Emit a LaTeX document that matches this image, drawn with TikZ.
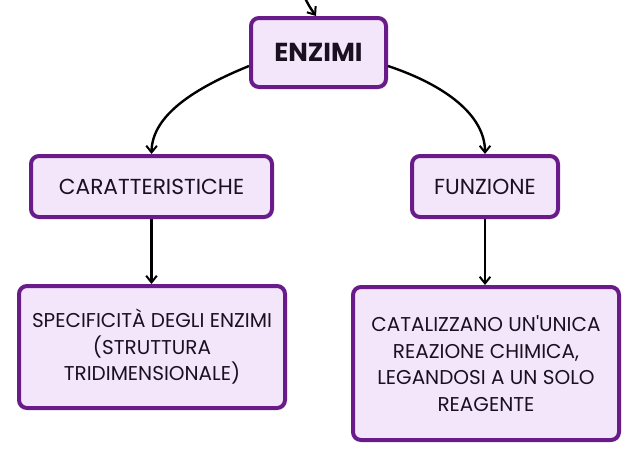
\documentclass[tikz,border=0pt]{standalone}
\usepackage{fontspec}
\setmainfont{Poppins}[Ligatures=TeXOff]
\usetikzlibrary{arrows.meta}
\definecolor{boxborder}{HTML}{6A1B8A}
\definecolor{boxfill}{HTML}{F3E6FB}
\definecolor{txt}{HTML}{1A1020}
\begin{document}
\begin{tikzpicture}[x=0.75pt,y=-0.75pt,
  box/.style={draw=boxborder,fill=boxfill,line width=3pt,rounded corners=6pt,
    align=center,text=txt,inner sep=0pt},
  conn/.style={line width=1.8pt,-{Straight Barb[length=5pt,width=8pt,line width=1.5pt]}}]
\useasboundingbox (0,0) rectangle (638,461);
\node[box,minimum width=135*0.75pt,minimum height=69*0.75pt,font=\fontsize{19.5}{22}\selectfont\bfseries] (enz) at (318.5,52.5) {ENZIMI};
\node[box,minimum width=241*0.75pt,minimum height=61*0.75pt,font=\fontsize{16.3}{19}\selectfont] (car) at (151.5,186.5) {CARATTERISTICHE};
\node[box,minimum width=146*0.75pt,minimum height=61*0.75pt,font=\fontsize{16.3}{19}\selectfont] (fun) at (485,186.5) {FUNZIONE};
\node[box,minimum width=266*0.75pt,minimum height=122*0.75pt,font=\fontsize{15}{19.9}\selectfont] (spe) at (152,347) {SPECIFICITÀ DEGLI ENZIMI\\(STRUTTURA\\TRIDIMENSIONALE)};
\node[box,minimum width=266*0.75pt,minimum height=153*0.75pt,font=\fontsize{15}{19.9}\selectfont] (cat) at (486,363.5) {CATALIZZANO UN'UNICA\\REAZIONE CHIMICA,\\LEGANDOSI A UN SOLO\\REAGENTE};
\coordinate (top) at (304,-4);
\draw[conn] (top) .. controls (309,6) .. (enz.north -| 316,0);
\draw[conn] (enz.west |- 0,66) .. controls (195,88) and (152,115) .. (car.north);
\draw[conn] (enz.east |- 0,66) .. controls (445,85) and (485,115) .. (fun.north);
\draw[conn] (car.south) -- (car.south |- spe.north);
\draw[conn] (fun.south) -- (fun.south |- cat.north);
\end{tikzpicture}
\end{document}
